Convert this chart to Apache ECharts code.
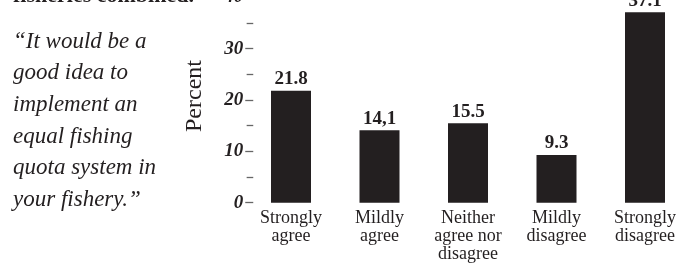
<!DOCTYPE html>
<html>
<head>
<meta charset="utf-8">
<script src="https://cdn.jsdelivr.net/npm/echarts@6/dist/echarts.min.js"></script>
<style>
  html, body { margin: 0; padding: 0; background: #fff; }
  #chart { width: 681px; height: 272px; }
</style>
</head>
<body>
<div id="chart"></div>
<script>
const categories = ['Strongly\nagree', 'Mildly\nagree', 'Neither\nagree nor\ndisagree', 'Mildly\ndisagree', 'Strongly\ndisagree']
const percents = [21.8, 14.1, 15.5, 9.3, 37.1]
const valueLabels = ['21.8', '14,1', '15.5', '9.3', '37.1']
const yTicks = [0, 10, 20, 30, 40]

const ink = '#231f20'
const serif = '"Liberation Serif", "DejaVu Serif", serif'

const chart = echarts.init(document.getElementById('chart'), null, { renderer: 'canvas' })

chart.setOption({
  animation: false,
  backgroundColor: '#fff',
  grid: { left: 246.75, width: 442.5, top: -2.6, bottom: 69.3, containLabel: false, outerBoundsMode: 'none' },
  graphic: [
    {
      // heading of the panel, only its lower edge falls inside the crop
      type: 'text', x: 13, y: -15,
      style: { text: 'fisheries combined.', font: 'bold 22px ' + serif, fill: ink }
    },
    {
      type: 'text', x: 13, y: 26,
      style: {
        text: '\u201cIt would be a\ngood idea to\nimplement an\nequal fishing\nquota system in\nyour fishery.\u201d',
        font: 'italic 23px ' + serif, lineHeight: 31.6, fill: ink
      }
    },
    {
      type: 'text', x: 195, y: 96, rotation: Math.PI / 2,
      style: { text: 'Percent', font: '24px ' + serif, fill: ink, align: 'center', verticalAlign: 'middle' }
    }
  ],
  xAxis: {
    type: 'category',
    data: categories,
    boundaryGap: true,
    axisLine: { show: false },
    axisTick: { show: false },
    axisLabel: {
      interval: 0, margin: 7, color: ink,
      fontFamily: serif, fontSize: 18, lineHeight: 18
    }
  },
  yAxis: {
    type: 'value',
    min: yTicks[0], max: yTicks[yTicks.length - 1], interval: 10,
    offset: -6.5,
    splitLine: { show: false },
    axisLine: { show: false },
    axisTick: { show: true, length: 8, lineStyle: { color: '#666', width: 1.3 } },
    minorTick: { show: true, splitNumber: 2, length: 6.6, lineStyle: { color: '#666', width: 1.3 } },
    axisLabel: {
      margin: 10, color: ink, fontFamily: serif, fontSize: 19,
      fontWeight: 'bold', fontStyle: 'italic'
    }
  },
  series: [{
    type: 'bar',
    data: percents,
    barWidth: 40,
    itemStyle: { color: ink },
    label: {
      show: true, position: 'top', distance: 2, color: ink,
      fontFamily: serif, fontSize: 19, fontWeight: 'bold',
      formatter: p => valueLabels[p.dataIndex]
    }
  }]
})
</script>
</body>
</html>
